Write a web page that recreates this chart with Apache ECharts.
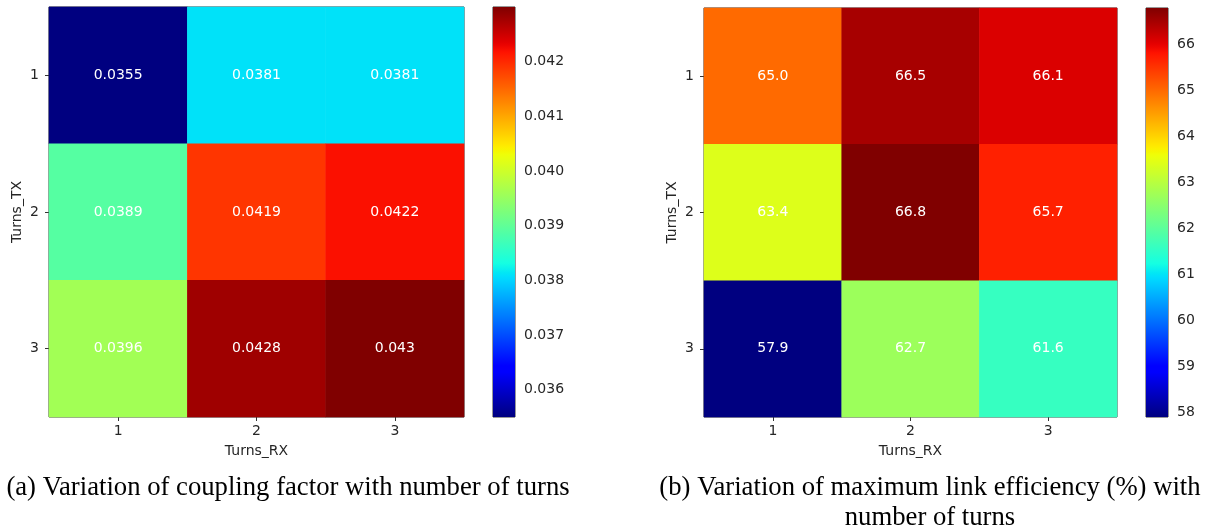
<!DOCTYPE html>
<html>
<head>
<meta charset="utf-8">
<script src="https://cdn.jsdelivr.net/npm/echarts@6/dist/echarts.min.js"></script>
<style>
html,body{margin:0;padding:0;background:#fff;}
#chart{width:1208px;height:528px;}
</style>
</head>
<body>
<div id="chart"></div>
<script>
// ---- Data ----
var turnsRX = ['1', '2', '3'];
var turnsTX = ['1', '2', '3'];
// coupling factor, rows = Turns_TX 1..3, cols = Turns_RX 1..3
var couplingRow1 = [0.0355, 0.0381, 0.0381];
var couplingRow2 = [0.0389, 0.0419, 0.0422];
var couplingRow3 = [0.0396, 0.0428, 0.043];
// maximum link efficiency (%)
var effRow1 = [65.0, 66.5, 66.1];
var effRow2 = [63.4, 66.8, 65.7];
var effRow3 = [57.9, 62.7, 61.6];
// colorbar tick labels
var couplingTicks = [0.036, 0.037, 0.038, 0.039, 0.040, 0.041, 0.042];
var effTicks = [58, 59, 60, 61, 62, 63, 64, 65, 66];
var captionA = '(a) Variation of coupling factor with number of turns';
var captionB = '(b) Variation of maximum link efficiency (%) with\nnumber of turns';

// ---- jet colormap (matplotlib) ----
function interp(pts, t) {
  for (var i = 0; i < pts.length - 1; i++) {
    if (t <= pts[i + 1][0]) {
      var a = pts[i], b = pts[i + 1];
      var f = (t - a[0]) / (b[0] - a[0] || 1);
      return a[1] + f * (b[1] - a[1]);
    }
  }
  return pts[pts.length - 1][1];
}
var jR = [[0, 0], [0.35, 0], [0.66, 1], [0.89, 1], [1, 0.5]];
var jG = [[0, 0], [0.125, 0], [0.375, 1], [0.64, 1], [0.91, 0], [1, 0]];
var jB = [[0, 0.5], [0.11, 1], [0.34, 1], [0.65, 0], [1, 0]];
function jet(t) {
  var r = Math.round(255 * interp(jR, t)), g = Math.round(255 * interp(jG, t)), b = Math.round(255 * interp(jB, t));
  return 'rgb(' + r + ',' + g + ',' + b + ')';
}
var N = 128, jetColors = [], jetStops = [];
for (var i = 0; i <= N; i++) {
  jetColors.push(jet(i / N));
  jetStops.push({ offset: i / N, color: jet(i / N) });
}

function toCells(rows) {
  var out = [];
  rows.forEach(function (row, yi) {
    row.forEach(function (v, xi) { out.push([xi, yi, v]); });
  });
  return out;
}
var couplingRows = [couplingRow1, couplingRow2, couplingRow3];
var effRows = [effRow1, effRow2, effRow3];
var couplingAll = [].concat(couplingRow1, couplingRow2, couplingRow3);
var effAll = [].concat(effRow1, effRow2, effRow3);
var cMin = Math.min.apply(null, couplingAll), cMax = Math.max.apply(null, couplingAll);
var eMin = Math.min.apply(null, effAll), eMax = Math.max.apply(null, effAll);

var FONT = 'DejaVu Sans';
var txt = '#262626';

function heatX(gi) {
  return {
    type: 'category', gridIndex: gi, data: turnsRX, name: 'Turns_RX',
    nameLocation: 'middle', nameGap: 27,
    nameTextStyle: { fontFamily: FONT, fontSize: 14, color: txt },
    axisLine: { show: false },
    axisTick: { show: true, alignWithLabel: true, length: 4, lineStyle: { color: '#333' } },
    axisLabel: { fontFamily: FONT, fontSize: 14, color: txt, margin: 7 },
    splitLine: { show: false }
  };
}
function heatY(gi) {
  return {
    type: 'category', gridIndex: gi, data: turnsTX, inverse: true, name: 'Turns_TX',
    nameLocation: 'middle', nameGap: 25, nameRotate: 90,
    nameTextStyle: { fontFamily: FONT, fontSize: 14, color: txt },
    axisLine: { show: false },
    axisTick: { show: true, alignWithLabel: true, length: 4, lineStyle: { color: '#333' } },
    axisLabel: { fontFamily: FONT, fontSize: 14, color: txt, margin: 10 },
    splitLine: { show: false }
  };
}
function barX(gi) {
  return { type: 'value', gridIndex: gi, min: 0, max: 1, show: false };
}
function barY(gi, mn, mx, ticks, fmt) {
  return {
    type: 'value', gridIndex: gi, min: mn, max: mx, position: 'right',
    axisLine: { show: false },
    axisTick: { show: true, length: 4, customValues: ticks, lineStyle: { color: '#333' } },
    axisLabel: { fontFamily: FONT, fontSize: 14, color: txt, margin: 9, customValues: ticks, formatter: fmt },
    splitLine: { show: false }
  };
}
function colorbarSeries(xi, yi, mn, mx) {
  return {
    type: 'custom', xAxisIndex: xi, yAxisIndex: yi, data: [[0, mn, mx]], silent: true,
    renderItem: function (params, api) {
      var p0 = api.coord([0, api.value(2)]);
      var p1 = api.coord([1, api.value(1)]);
      return {
        type: 'rect',
        shape: { x: p0[0], y: p0[1], width: p1[0] - p0[0], height: p1[1] - p0[1] },
        style: { fill: { type: 'linear', x: 0, y: 1, x2: 0, y2: 0, colorStops: jetStops } }
      };
    }
  };
}
function heatSeries(xi, yi, rows, fmt) {
  return {
    type: 'heatmap', xAxisIndex: xi, yAxisIndex: yi, data: toCells(rows),
    label: {
      show: true, color: '#fff', fontFamily: FONT, fontSize: 14,
      formatter: function (p) { return fmt(p.value[2]); }
    },
    itemStyle: { borderWidth: 0 },
    emphasis: { disabled: true }
  };
}

var gridStyle = { show: true, borderColor: '#333', borderWidth: 1, backgroundColor: 'transparent' };
var capStyle = { fontFamily: 'Liberation Serif', fontSize: 26.7, fontWeight: 'normal', color: '#000', lineHeight: 30, align: 'center' };
var option = {
  backgroundColor: '#fff',
  animation: false,
  title: [
    { text: captionA, left: 288, top: 473, textAlign: 'center', padding: 0, textStyle: capStyle },
    { text: captionB, left: 930, top: 473, textAlign: 'center', padding: 0, textStyle: capStyle }
  ],
  grid: [
    Object.assign({ left: 49, top: 7, width: 415, height: 410 }, gridStyle),
    Object.assign({ left: 493, top: 7, width: 22, height: 410 }, gridStyle),
    Object.assign({ left: 704, top: 8, width: 413, height: 409 }, gridStyle),
    Object.assign({ left: 1146, top: 8, width: 22, height: 409 }, gridStyle)
  ],
  xAxis: [heatX(0), barX(1), heatX(2), barX(3)],
  yAxis: [
    heatY(0),
    barY(1, cMin, cMax, couplingTicks, function (v) { return v.toFixed(3); }),
    heatY(2),
    barY(3, eMin, eMax, effTicks, function (v) { return String(Math.round(v)); })
  ],
  visualMap: [
    { type: 'continuous', show: false, seriesIndex: 0, min: cMin, max: cMax, inRange: { color: jetColors } },
    { type: 'continuous', show: false, seriesIndex: 2, min: eMin, max: eMax, inRange: { color: jetColors } }
  ],
  series: [
    heatSeries(0, 0, couplingRows, function (v) { return String(v); }),
    colorbarSeries(1, 1, cMin, cMax),
    heatSeries(2, 2, effRows, function (v) { return v.toFixed(1); }),
    colorbarSeries(3, 3, eMin, eMax)
  ]
};
var chart = echarts.init(document.getElementById('chart'), null, { renderer: 'canvas' });
chart.setOption(option);
</script>
</body>
</html>
